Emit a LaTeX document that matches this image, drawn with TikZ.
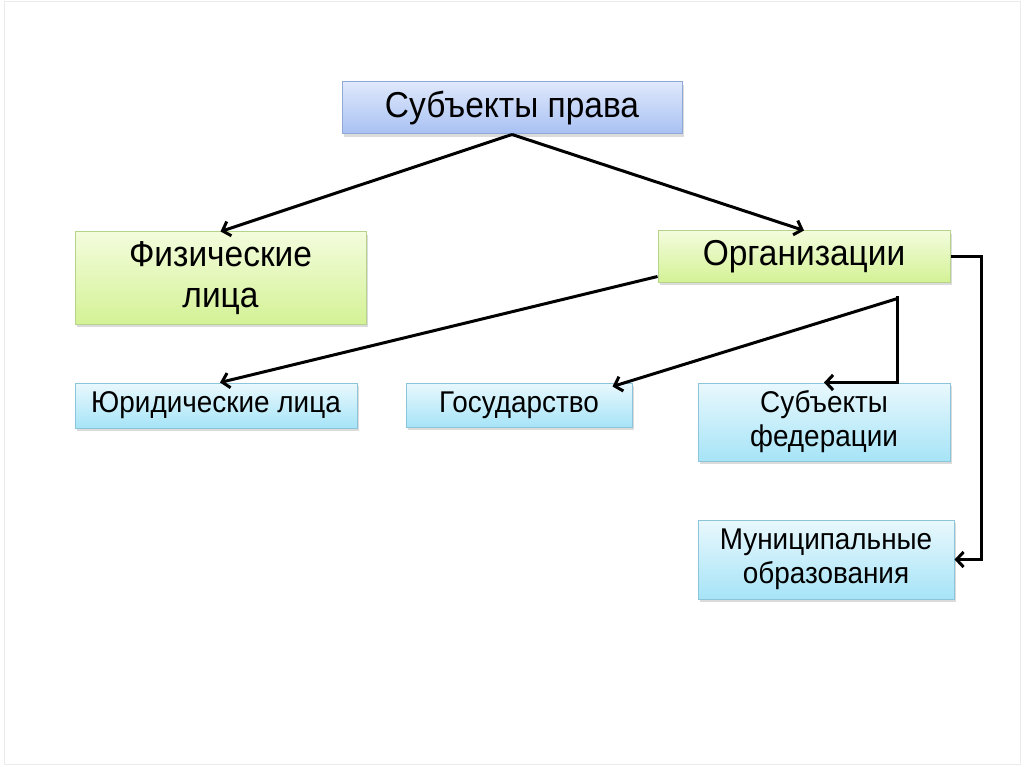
\documentclass[tikz,border=0pt]{standalone}
\usepackage{fontspec}
\setmainfont{Liberation Sans}[FakeStretch=0.93]
\usetikzlibrary{arrows.meta,shadows}
\definecolor{blueTop}{HTML}{DFE8FB}
\definecolor{blueBot}{HTML}{A8C1F3}
\definecolor{blueLine}{HTML}{8FA9D6}
\definecolor{greenTop}{HTML}{F3FCDC}
\definecolor{greenBot}{HTML}{D4F296}
\definecolor{greenLine}{HTML}{B5D38A}
\definecolor{cyanTop}{HTML}{E9F8FD}
\definecolor{cyanBot}{HTML}{A6E4F7}
\definecolor{cyanLine}{HTML}{8CC4DA}
\tikzset{
  box/.style={rectangle, inner sep=0pt, align=center, line width=1pt,
    drop shadow={shadow xshift=2pt, shadow yshift=-3pt, fill=black!35, opacity=0.4}},
  topbox/.style={box, draw=blueLine, top color=blueTop, bottom color=blueBot,
    font=\fontsize{36}{40}\selectfont},
  greenbox/.style={box, draw=greenLine, top color=greenTop, bottom color=greenBot,
    font=\fontsize{36}{41}\selectfont},
  cyanbox/.style={box, draw=cyanLine, top color=cyanTop, bottom color=cyanBot,
    font=\fontsize{30}{34}\selectfont},
  conn/.style={line width=3pt, -{Straight Barb[length=7pt,width=15pt,line width=3pt]}}
}
\begin{document}
\begin{tikzpicture}[x=1pt,y=-1pt]
\useasboundingbox (0,0) rectangle (1024,767);
\fill[white] (0,0) rectangle (1024,767);
\draw[black!8, line width=1pt] (4,2) rectangle (1020,764);

\node[topbox, minimum width=340pt, minimum height=52pt] (top) at (512,108) {Субъекты права};
\node[greenbox, minimum width=291pt, minimum height=92pt] (fiz) at (220.5,278) {Физические\\лица};
\node[greenbox, minimum width=292pt, minimum height=51pt] (org) at (804,256.5) {Организации};
\node[cyanbox, minimum width=282pt, minimum height=45pt] (jur) at (216,405.5) {Юридические лица};
\node[cyanbox, minimum width=226pt, minimum height=44pt] (gos) at (519,405) {Государство};
\node[cyanbox, minimum width=252pt, minimum height=78pt] (subj) at (824,422) {Субъекты\\федерации};
\node[cyanbox, minimum width=256pt, minimum height=79pt] (mun) at (826,559.5) {Муниципальные\\образования};

\coordinate (sp) at ([xshift=-53pt,yshift=-13pt]org.south east);

\draw[conn] (top.south) -- (fiz.north);
\draw[conn] (top.south) -- (org.north);
\draw[conn] ([yshift=6pt]org.south west) -- ([xshift=4pt]jur.north);
\draw[conn] ([yshift=-3pt]sp) -- ([xshift=-20pt,yshift=-4pt]gos.north east);
\draw[conn] (sp) |- (subj.north);
\draw[conn] (org.east) -- ++(31,0) |- (mun.east);
\end{tikzpicture}
\end{document}
